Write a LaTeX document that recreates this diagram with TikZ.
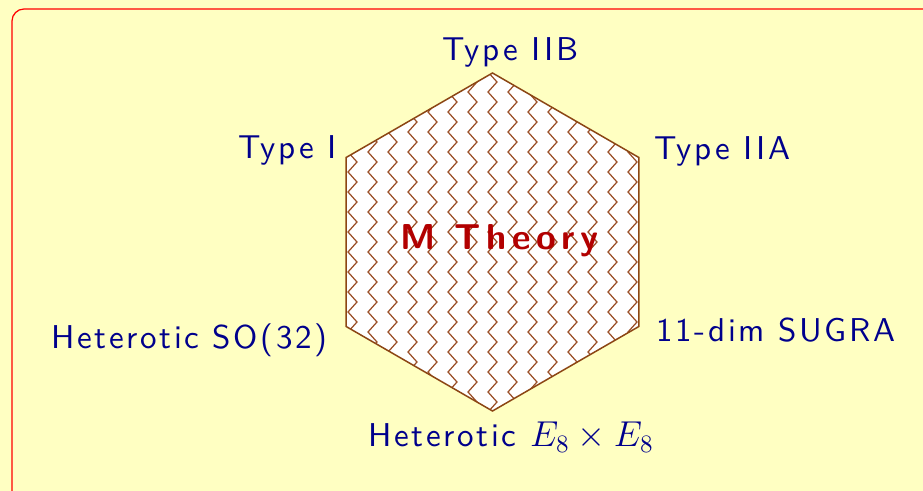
\documentclass[tikz,border=0pt]{standalone}
\usepackage{amsmath, amssymb}
\usepackage{fontspec}
\usepackage{tikz}
\usetikzlibrary{shapes.geometric, decorations.pathmorphing, positioning}

\newfontfamily\lblfont{lmsans10-regular.otf}[LetterSpace=8]
\newfontfamily\titlefont{lmsans10-bold.otf}[LetterSpace=16]

\definecolor{bgyellow}{RGB}{255,255,194}
\definecolor{labelblue}{RGB}{0,0,140}
\definecolor{theoryred}{RGB}{178,0,0}
\definecolor{hexbrown}{RGB}{140,70,20}
\definecolor{zigbrown}{RGB}{155,80,40}

\begin{document}
\begin{tikzpicture}[x=0.4pt, y=-0.4pt,
    vertex label/.style={font=\lblfont\fontsize{13.2pt}{16pt}\selectfont, text=labelblue, inner sep=0pt},
    zz/.style={zigbrown, line width=0.5pt, decorate,
      decoration={zigzag, segment length=8pt, amplitude=1.8pt}}]
      % Background and frame
      \fill[bgyellow] (0,0) rectangle (923,491);
      \useasboundingbox (0,0) rectangle (923,491);
      \begin{scope}
        \clip (0,0) rectangle (923,491);
        \draw[red, line width=0.5pt, rounded corners=4.8pt] (12,9) rectangle (960,530);
      \end{scope}

      % The hexagon
      \node[regular polygon, regular polygon sides=6, shape border rotate=30,
        minimum size=135.2pt, inner sep=0pt, draw=hexbrown, line width=0.6pt, fill=white,
        path picture={
          \begin{scope}[shift={(path picture bounding box.center)}]
            \foreach \x in {-160,-140,...,160}
              \draw[zz] (\x,-185) -- (\x,185);
          \end{scope}
        }] (mt) at (492.5,242) {};

      \node[font=\titlefont\fontsize{14.4pt}{17pt}\selectfont, text=theoryred, inner sep=0pt, anchor=base west] (mtext) at (400,250) {M Theory};

      % Vertex labels
      \node[vertex label, anchor=base west] (iib) at (442,61) {Type IIB};
      \node[vertex label, anchor=base east] (i) at (337,159) {Type I};
      \node[vertex label, anchor=base west] (iia) at (654,160) {Type IIA};
      \node[vertex label, anchor=base east] (so32) at (328,349) {Heterotic SO(32)};
      \node[vertex label, anchor=base west] (sugra) at (656,342) {11-dim SUGRA};
      \node[vertex label, anchor=base west] (e8) at (368,447) {Heterotic {\fontsize{14.2pt}{17pt}\selectfont$E_8\times E_8$}};

    \end{tikzpicture}
\end{document}
